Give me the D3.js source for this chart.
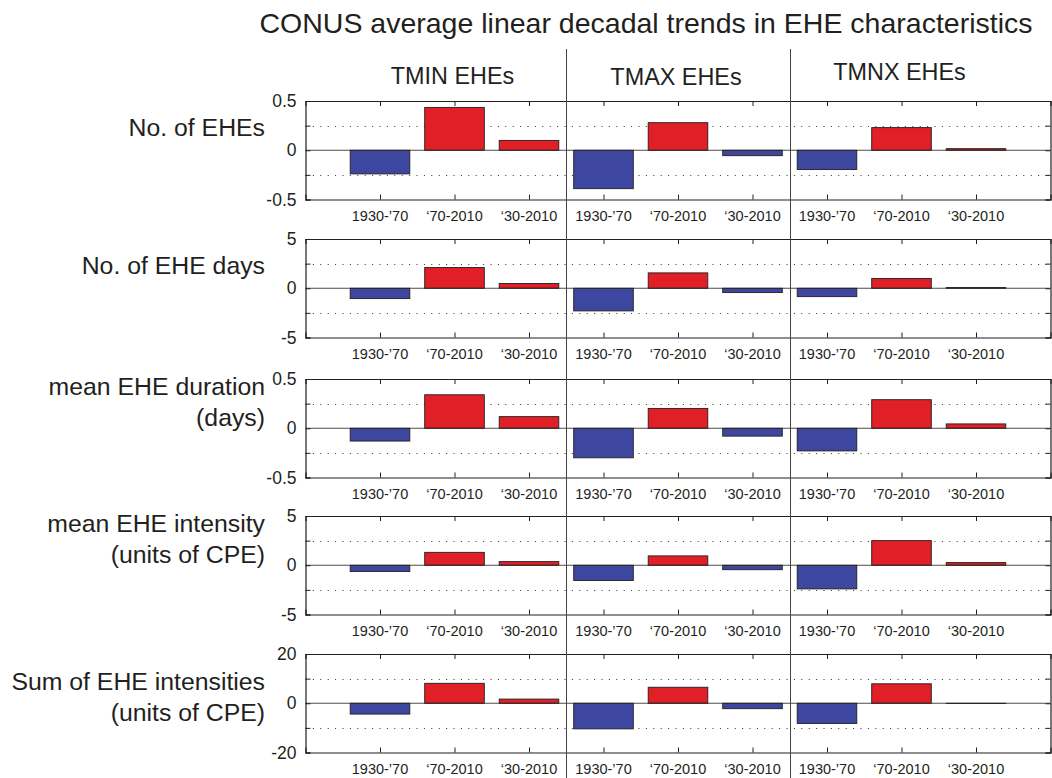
<!DOCTYPE html>
<html>
<head>
<meta charset="utf-8" />
<title>CONUS EHE trends</title>
<script src="https://cdn.jsdelivr.net/npm/d3@7"></script>
<style>
  body { margin: 0; background: #fff; }
  svg { display: block; font-family: "Liberation Sans", Arial, Helvetica, sans-serif; fill: #231f20; }
</style>
</head>
<body>
<div id="chart"></div>
<script>
// Data
var periods = ["1930-\u201970", "\u201870-2010", "\u201830-2010"]
var groups = ["TMIN EHEs", "TMAX EHEs", "TMNX EHEs"]
var rowLabels = [
  ["No. of EHEs"],
  ["No. of EHE days"],
  ["mean EHE duration", "(days)"],
  ["mean EHE intensity", "(units of CPE)"],
  ["Sum of EHE intensities", "(units of CPE)"]
]
var yLimits = [0.5, 5, 0.5, 5, 20]

// values ordered TMIN (3 periods), TMAX (3), TMNX (3)
var numEHEs = [-0.24, 0.435, 0.10, -0.39, 0.28, -0.055, -0.195, 0.23, 0.016]
var numEHEDays = [-1.05, 2.1, 0.48, -2.3, 1.56, -0.44, -0.85, 0.99, 0.07]
var meanDuration = [-0.13, 0.34, 0.118, -0.30, 0.20, -0.08, -0.23, 0.29, 0.044]
var meanIntensity = [-0.64, 1.31, 0.37, -1.55, 0.95, -0.45, -2.4, 2.5, 0.27]
var sumIntensity = [-4.4, 8.1, 1.7, -10.4, 6.5, -2.2, -8.2, 7.9, -0.1]
var rowValues = [numEHEs, numEHEDays, meanDuration, meanIntensity, sumIntensity]

var width = 1052, height = 778
var rowTops = [101, 239, 379, 516, 654]
var rowHeight = 98.5

var svg = d3.select("#chart").append("svg")
  .attr("width", width)
  .attr("height", height)

var xScale = d3.scaleLinear().domain([0, 10]).range([305.5, 1050.5])
var barW = xScale(0.8) - xScale(0)
var fmt = function(d) { return String(d).replace("\u2212", "-") }

// Title
svg.append("text")
  .attr("x", 646).attr("y", 33)
  .attr("text-anchor", "middle")
  .style("font-size", "28.5px")
  .text("CONUS average linear decadal trends in EHE characteristics")

// Column headers
var headerY = [84, 85, 80]
svg.selectAll(".group").data(groups).enter().append("text")
  .attr("class", "group")
  .attr("x", function(d, i) { return xScale(i * 3 + 2) - 2 })
  .attr("y", function(d, i) { return headerY[i] })
  .attr("text-anchor", "middle")
  .style("font-size", "23.4px")
  .text(function(d) { return d })

rowValues.forEach(function(vals, r) {
  var L = yLimits[r]
  var top = rowTops[r], bottom = top + rowHeight
  var yScale = d3.scaleLinear().domain([-L, L]).range([bottom, top])
  var g = svg.append("g")

  // dotted grid
  g.selectAll(".grid").data([-L / 2, L / 2]).enter().append("line")
    .attr("x1", xScale(0)).attr("x2", xScale(10))
    .attr("y1", function(d) { return Math.round(yScale(d)) + 0.5 })
    .attr("y2", function(d) { return Math.round(yScale(d)) + 0.5 })
    .attr("stroke", "#333").attr("stroke-width", 1)
    .attr("stroke-dasharray", "1,6.4")

  // bars
  g.selectAll(".bar").data(vals).enter().append("rect")
    .attr("x", function(d, i) { return xScale(i + 1) - barW / 2 })
    .attr("y", function(d) { return yScale(Math.max(0, d)) })
    .attr("width", barW)
    .attr("height", function(d) { return Math.abs(yScale(d) - yScale(0)) })
    .attr("fill", function(d) { return d < 0 ? "#3e47a0" : "#e01f26" })
    .attr("stroke", "#231f20").attr("stroke-width", 0.9)

  // zero line
  g.append("line")
    .attr("x1", xScale(0)).attr("x2", xScale(10))
    .attr("y1", yScale(0)).attr("y2", yScale(0))
    .attr("stroke", "#231f20").attr("stroke-width", 0.8)

  // axes (ticks inward, box)
  var xb = d3.axisBottom(xScale).tickValues([1, 2, 3, 4, 5, 6, 7, 8, 9])
    .tickSize(-5).tickFormat("")
  var xt = d3.axisTop(xScale).tickValues([1, 2, 3, 4, 5, 6, 7, 8, 9])
    .tickSize(-5).tickFormat("")
  var yl = d3.axisLeft(yScale).tickValues([-L, -L / 2, 0, L / 2, L])
    .tickSize(-5).tickFormat(function(d) { return Math.abs(d) === L / 2 ? "" : fmt(d) })
    .tickPadding(9)
  var yr = d3.axisRight(yScale).tickValues([-L, -L / 2, 0, L / 2, L])
    .tickSize(-5).tickFormat("")

  g.append("g").attr("transform", "translate(0," + bottom + ")").call(xb)
  g.append("g").attr("transform", "translate(0," + top + ")").call(xt)
  g.append("g").attr("transform", "translate(" + xScale(0) + ",0)").call(yl)
  g.append("g").attr("transform", "translate(" + xScale(10) + ",0)").call(yr)

  g.selectAll(".domain").attr("stroke", "#231f20").attr("stroke-width", 1.2)
  g.selectAll(".tick line").attr("stroke", "#231f20")
  g.selectAll(".tick text")
    .style("font-size", "17.5px")
    .attr("fill", "#231f20")
    .style("font-family", "Liberation Sans, Arial, sans-serif")

  // period labels under each bar
  g.selectAll(".plabel").data(d3.range(9)).enter().append("text")
    .attr("x", function(i) { return xScale(i + 1) })
    .attr("y", bottom + 21)
    .attr("text-anchor", "middle")
    .style("font-size", "14.5px")
    .text(function(i) { return periods[i % 3] })

  // row label
  var lines = rowLabels[r]
  var labelY = lines.length === 1 ? [top + 35] : [top + 16, top + 47]
  if (r === 4) labelY = [top + 36, top + 67]
  g.selectAll(".rlabel").data(lines).enter().append("text")
    .attr("x", 265)
    .attr("y", function(d, i) { return labelY[i] })
    .attr("text-anchor", "end")
    .style("font-size", "24.8px")
    .text(function(d) { return d })
})

// vertical separators between groups
svg.selectAll(".sep").data([3.5, 6.5]).enter().append("line")
  .attr("x1", function(d) { return Math.round(xScale(d)) + 0.5 })
  .attr("x2", function(d) { return Math.round(xScale(d)) + 0.5 })
  .attr("y1", 49).attr("y2", height)
  .attr("stroke", "#444").attr("stroke-width", 1)
</script>
</body>
</html>
